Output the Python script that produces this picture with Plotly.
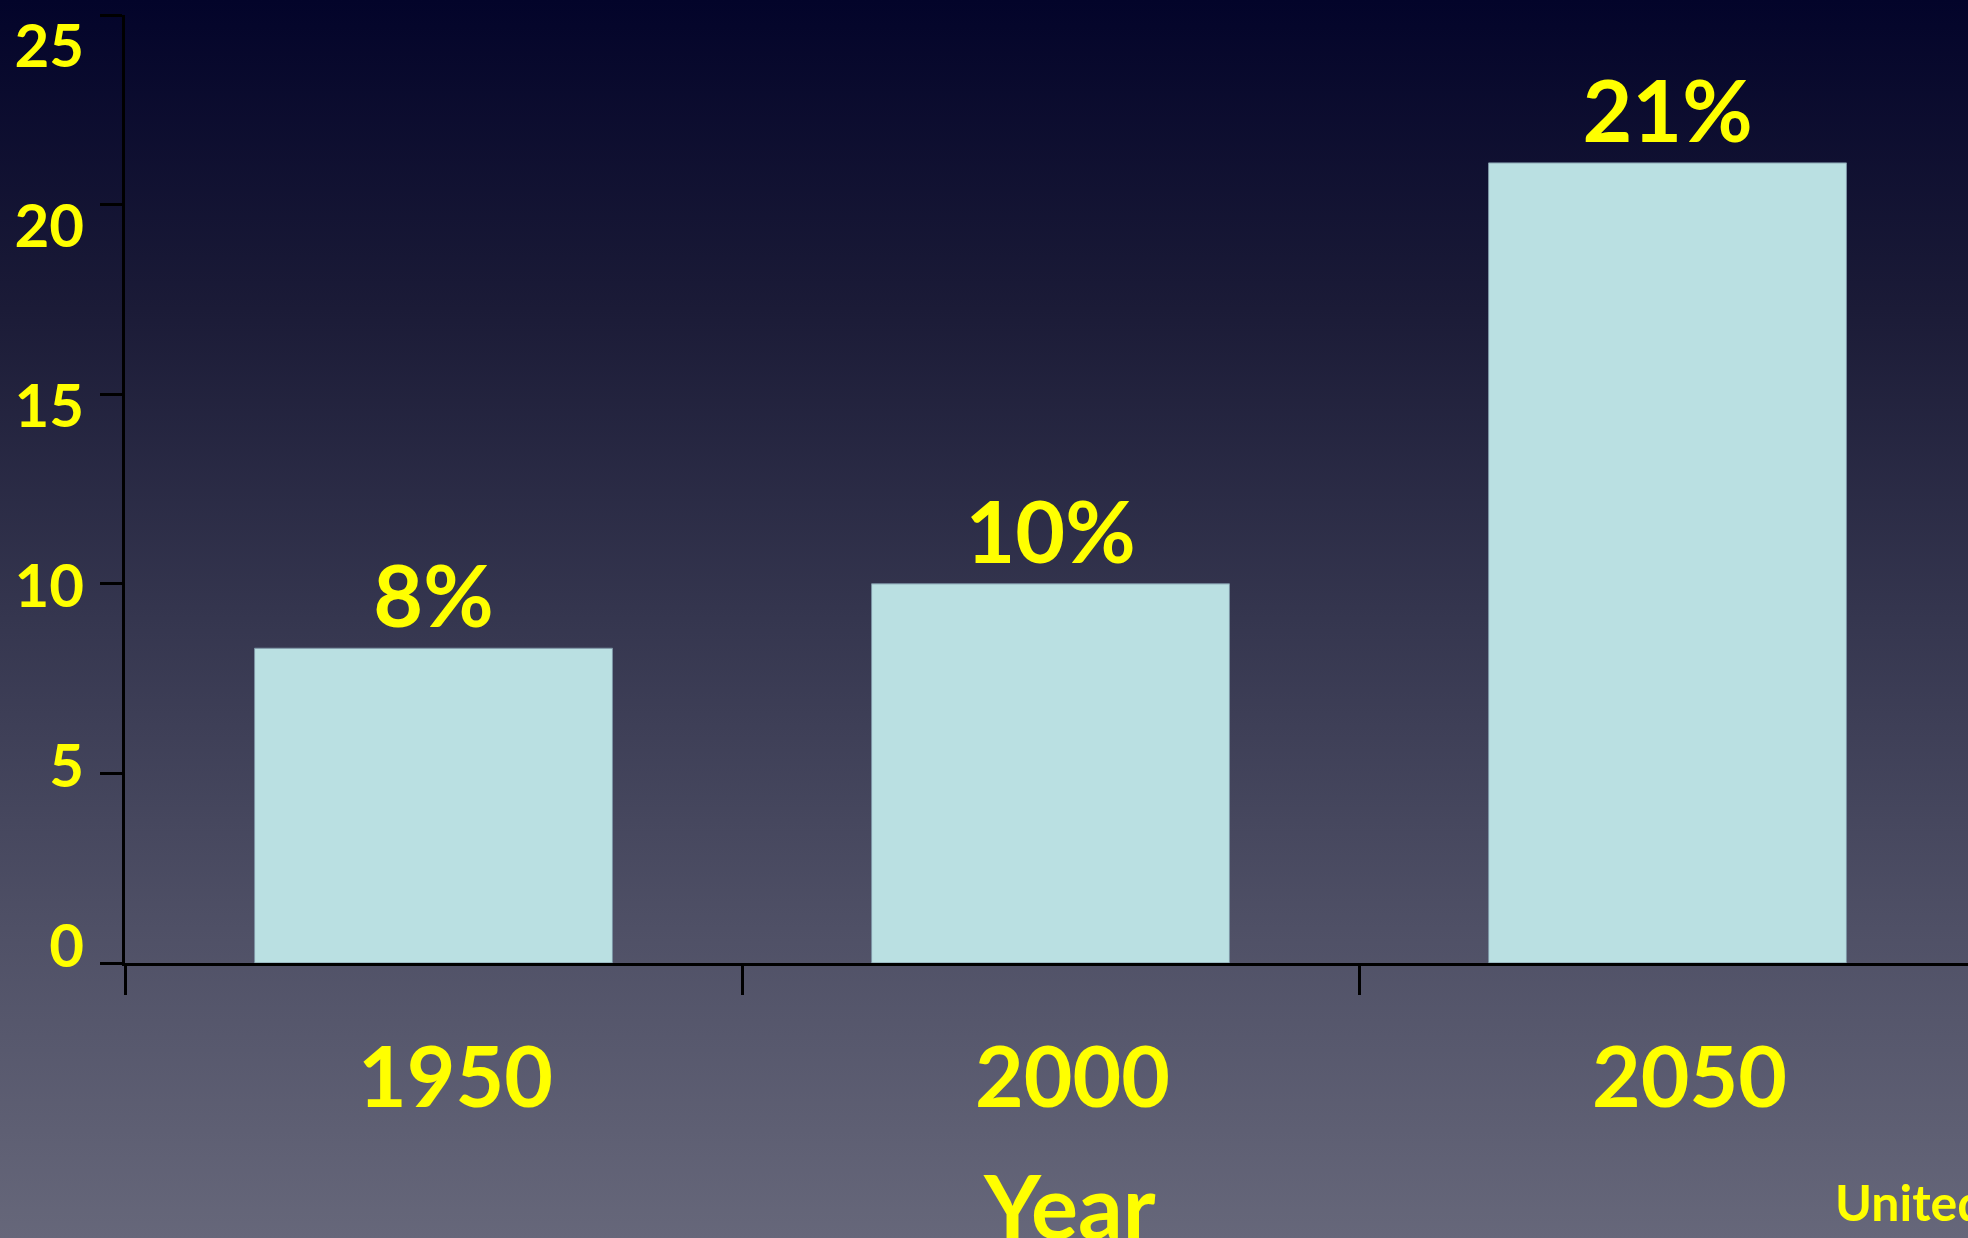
import base64
import plotly.graph_objects as go

# ---- data ----
years = ["1950", "2000", "2050"]
values = [8.3, 10.0, 21.1]
value_labels = ["8%", "10%", "21%"]
y_ticks = [0, 5, 10, 15, 20, 25]
y_tick_text = ["0", "5", "10", "15", "20", "25"]
x_title = "Year"
source_note = "United Nations"

W, H = 1968, 1238
ML, MR, MT, MB = 125, 0, 15, 275
PW, PH = W - ML - MR, H - MT - MB

YELLOW = "#ffff00"
FONT = "Lato"

svg = f"""<svg xmlns='http://www.w3.org/2000/svg' width='{W}' height='{H}' viewBox='0 0 {W} {H}' preserveAspectRatio='none'>
<defs><linearGradient id='g' x1='0' y1='0' x2='0' y2='1'>
<stop offset='0' stop-color='#03042a'/>
<stop offset='0.25' stop-color='#1b1b37'/>
<stop offset='0.5' stop-color='#35364f'/>
<stop offset='0.75' stop-color='#4f5066'/>
<stop offset='1' stop-color='#66677a'/>
</linearGradient></defs>
<rect width='{W}' height='{H}' fill='url(#g)'/></svg>"""
bg_uri = "data:image/svg+xml;base64," + base64.b64encode(svg.encode()).decode()

fig = go.Figure()
fig.add_trace(
    go.Bar(
        x=years,
        y=values,
        text=value_labels,
        texttemplate="%{text}",
        textposition="outside",
        textfont=dict(family=FONT, size=86, color=YELLOW, weight="bold"),
        marker=dict(color="#bae0e2", line=dict(color="#7d95a5", width=1)),
        width=0.58,
        cliponaxis=False,
        hoverinfo="skip",
    )
)
# empty trace so the label-only overlay axis gets drawn
fig.add_trace(go.Scatter(x=[], y=[], yaxis="y2", showlegend=False, hoverinfo="skip"))

fig.update_layout(
    width=W,
    height=H,
    margin=dict(l=ML, r=MR, t=MT, b=MB, pad=0),
    paper_bgcolor="#35364f",
    plot_bgcolor="rgba(0,0,0,0)",
    showlegend=False,
    images=[
        dict(
            source=bg_uri,
            xref="paper",
            yref="paper",
            x=-ML / PW,
            y=1 + MT / PH,
            sizex=W / PW,
            sizey=H / PH,
            xanchor="left",
            yanchor="top",
            sizing="stretch",
            layer="below",
        )
    ],
    xaxis=dict(
        type="category",
        categoryorder="array",
        categoryarray=years,
        range=[-0.5, 2.487],
        showline=True,
        linecolor="black",
        linewidth=3,
        ticks="outside",
        tickson="boundaries",
        ticklen=29,
        tickwidth=3,
        tickcolor="black",
        showgrid=False,
        zeroline=False,
        tickfont=dict(family=FONT, size=84, color=YELLOW, weight="bold"),
        ticklabelstandoff=40,
        ticklabelshift=22,
        automargin=False,
    ),
    yaxis=dict(
        range=[0, 25],
        tickvals=y_ticks,
        showticklabels=False,
        showline=True,
        linecolor="black",
        linewidth=3,
        ticks="outside",
        ticklen=22,
        tickwidth=3,
        tickcolor="black",
        showgrid=False,
        zeroline=False,
        automargin=False,
    ),
    # label-only axis reproducing the reference's slightly compressed tick-label spacing
    yaxis2=dict(
        overlaying="y",
        anchor="x",
        side="left",
        range=[-0.472, 25.861],
        tickvals=y_ticks,
        ticktext=y_tick_text,
        showline=False,
        ticks="",
        showgrid=False,
        zeroline=False,
        tickfont=dict(family=FONT, size=60, color=YELLOW, weight="bold"),
        ticklabelstandoff=40,
        automargin=False,
    ),
    annotations=[
        dict(
            text=x_title,
            xref="paper",
            yref="paper",
            x=(1069 - ML) / PW,
            y=-(1150 - MT - PH) / PH,
            xanchor="center",
            yanchor="top",
            showarrow=False,
            font=dict(family=FONT, size=88, color=YELLOW, weight="bold"),
        ),
        dict(
            text=source_note,
            xref="paper",
            yref="paper",
            x=(1833 - ML) / PW,
            y=-(1234 - MT - PH) / PH,
            xanchor="left",
            yanchor="bottom",
            showarrow=False,
            font=dict(family=FONT, size=50, color=YELLOW, weight="bold"),
        ),
    ],
)

fig.write_html("out.html")
